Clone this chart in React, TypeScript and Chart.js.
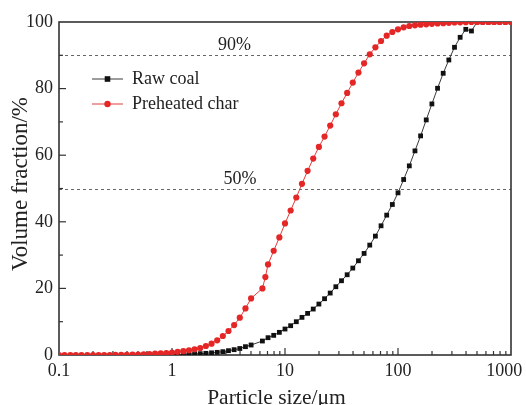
import React, { useEffect, useRef } from "react";
import { Chart, registerables } from "chart.js";

Chart.register(...registerables);

const FAMILY = "'Liberation Serif', 'Times New Roman', serif";
const TEXT_COLOR = "#222";

// Particle size classes (µm) of the preheated char curve
const charSizes = [
  0.1, 0.112, 0.126, 0.141, 0.158, 0.178, 0.2, 0.224, 0.251, 0.282,
  0.316, 0.355, 0.398, 0.447, 0.501, 0.562, 0.631, 0.708, 0.794, 0.891,
  1.0, 1.122, 1.259, 1.413, 1.585, 1.778, 1.995, 2.239, 2.512, 2.818,
  3.162, 3.548, 3.981, 4.467, 5.012, 6.31, 6.7, 7.079, 7.943, 8.913,
  10.0, 11.22, 12.59, 14.13, 15.85, 17.78, 19.95, 22.39, 25.12, 28.18,
  31.62, 35.48, 39.81, 44.67, 50.12, 56.23, 63.1, 70.79, 79.43, 89.13,
  100.0, 112.2, 125.9, 141.3, 158.5, 177.8, 199.5, 223.9, 251.2, 281.8,
  316.2, 354.8, 398.1, 446.7, 501.2, 562.3, 631.0, 707.9, 794.3, 891.3,
  1000.0,
];
// Cumulative volume fraction (%) of preheated char
const charValues = [
  0, 0, 0, 0, 0, 0, 0, 0, 0, 0,
  0.02, 0.05, 0.08, 0.1, 0.15, 0.2, 0.3, 0.4, 0.5, 0.6,
  0.75, 0.95, 1.15, 1.4, 1.7, 2.1, 2.7, 3.4, 4.4, 5.7,
  7.2, 9.0, 11.2, 14.0, 17.0, 20.0, 23.4, 27.2, 31.3, 35.3,
  39.5, 43.4, 47.3, 51.4, 55.3, 59.0, 62.5, 65.6, 68.9, 72.3,
  75.6, 78.7, 81.8, 84.8, 87.6, 90.3, 92.4, 94.3, 95.9, 97.0,
  97.8, 98.4, 98.8, 99.0, 99.2, 99.3, 99.45, 99.55, 99.65, 99.75,
  99.85, 99.9, 99.95, 100, 100, 100, 100, 100, 100, 100,
  100,
];

// Particle size classes (µm) of the raw coal curve
const coalSizes = [
  0.794, 0.891, 1.0, 1.122, 1.259, 1.413, 1.585, 1.778, 1.995, 2.239,
  2.512, 2.818, 3.162, 3.548, 3.981, 4.467, 5.012, 6.31, 7.079, 7.943,
  8.913, 10.0, 11.22, 12.59, 14.13, 15.85, 17.78, 19.95, 22.39, 25.12,
  28.18, 31.62, 35.48, 39.81, 44.67, 50.12, 56.23, 63.1, 70.79, 79.43,
  89.13, 100.0, 112.2, 125.9, 141.3, 158.5, 177.8, 199.5, 223.9, 251.2,
  281.8, 316.2, 354.8, 398.1, 446.7, 501.2, 562.3, 631.0, 707.9, 794.3,
  891.3, 1000.0,
];
// Cumulative volume fraction (%) of raw coal
const coalValues = [
  0, 0, 0.05, 0.1, 0.2, 0.3, 0.35, 0.4, 0.5, 0.65,
  0.8, 1.0, 1.3, 1.6, 1.95, 2.5, 3.0, 4.2, 5.2, 5.9,
  6.8, 7.8, 8.8, 10.0, 11.3, 12.5, 13.8, 15.3, 16.9, 18.6,
  20.5, 22.3, 24.1, 26.1, 28.3, 30.5, 33.0, 35.7, 38.8, 42.0,
  45.2, 48.7, 52.7, 56.8, 61.3, 65.8, 70.6, 75.4, 80.1, 84.6,
  88.6, 92.4, 95.4, 97.8, 97.3, 100, 100, 100, 100, 100,
  100, 100,
];

const xTickValues = [0.1, 1, 10, 100, 1000];
const xTickLabels = ["0.1", "1", "10", "100", "1000   "];
const yTickValues = [0, 20, 40, 60, 80, 100];

// Reference lines: level (%), label, label centre (µm)
const refLevels = [90, 50];
const refLabels = ["90%", "50%"];
const refLabelAt = [3.57, 4.0];

const seriesNames = ["Raw coal", "Preheated char"];

const decorPlugin = {
  id: "decor",
  beforeDatasetsDraw(chart: any) {
    const { ctx, chartArea } = chart;
    const { left, right, top, bottom } = chartArea;
    const xs = chart.scales.x;
    const ys = chart.scales.y;
    ctx.save();
    // dashed reference lines
    ctx.strokeStyle = "#666";
    ctx.lineWidth = 1;
    ctx.setLineDash([3, 3]);
    refLevels.forEach((lv, i) => {
      const y = Math.round(ys.getPixelForValue(lv)) + 0.5;
      ctx.beginPath();
      ctx.moveTo(left, y);
      ctx.lineTo(right, y);
      ctx.stroke();
      ctx.fillStyle = TEXT_COLOR;
      ctx.font = `18px ${FAMILY}`;
      ctx.textAlign = "center";
      ctx.textBaseline = "alphabetic";
      ctx.fillText(refLabels[i], xs.getPixelForValue(refLabelAt[i]), y - 5.5);
    });
    ctx.setLineDash([]);
    // inward ticks
    ctx.strokeStyle = "#333";
    ctx.lineWidth = 1.2;
    for (let v = 10; v < 100; v += 10) {
      const y = ys.getPixelForValue(v);
      const len = v % 20 === 0 ? 7 : 4;
      ctx.beginPath();
      ctx.moveTo(left, y);
      ctx.lineTo(left + len, y);
      ctx.stroke();
    }
    for (let d = 0; d < xTickValues.length - 1; d++) {
      for (let m = 1; m <= 9; m++) {
        const v = xTickValues[d] * m;
        const x = xs.getPixelForValue(v);
        const len = m === 1 ? 7 : 4;
        if (d === 0 && m === 1) continue;
        ctx.beginPath();
        ctx.moveTo(x, bottom);
        ctx.lineTo(x, bottom - len);
        ctx.stroke();
      }
    }
    // frame
    ctx.strokeStyle = "#333";
    ctx.lineWidth = 1.6;
    ctx.strokeRect(left, top, right - left, bottom - top);
    ctx.restore();
  },
  afterDraw(chart: any) {
    const { ctx, chartArea } = chart;
    const { left, right, top, bottom } = chartArea;
    ctx.save();
    ctx.fillStyle = TEXT_COLOR;
    // axis titles
    ctx.font = `21.5px ${FAMILY}`;
    ctx.textAlign = "center";
    ctx.textBaseline = "alphabetic";
    ctx.fillText("Particle size/μm", (left + right) / 2 - 8.5, bottom + 49);
    ctx.save();
    ctx.translate(left - 32, (top + bottom) / 2 - 4.5);
    ctx.rotate(-Math.PI / 2);
    ctx.font = `23px ${FAMILY}`;
    ctx.fillText("Volume fraction/%", 0, 0);
    ctx.restore();
    // legend
    const order = [0, 1];
    order.forEach((di, row) => {
      const ds = chart.data.datasets[di];
      const y = top + 57 + row * 25;
      const x0 = left + 33;
      const x1 = left + 64;
      ctx.strokeStyle = ds.borderColor;
      ctx.lineWidth = 1;
      ctx.beginPath();
      ctx.moveTo(x0, y);
      ctx.lineTo(x1, y);
      ctx.stroke();
      const cx = (x0 + x1) / 2;
      ctx.fillStyle = ds.pointBackgroundColor;
      if (ds.pointStyle === "rect") {
        ctx.fillRect(cx - 2.8, y - 2.8, 5.6, 5.6);
      } else {
        ctx.beginPath();
        ctx.arc(cx, y, 3.2, 0, Math.PI * 2);
        ctx.fill();
      }
      ctx.fillStyle = TEXT_COLOR;
      ctx.font = `18px ${FAMILY}`;
      ctx.textAlign = "left";
      ctx.textBaseline = "middle";
      ctx.fillText(ds.label, left + 73, y);
    });
    ctx.restore();
  },
};

export default function App() {
  const ref = useRef<HTMLCanvasElement>(null);
  useEffect(() => {
    const canvas = ref.current;
    if (!canvas) return;
    const chart = new Chart(canvas, {
      type: "line",
      data: {
        datasets: [
          {
            label: seriesNames[0],
            data: coalSizes.map((x, i) => ({ x, y: coalValues[i] })),
            borderColor: "#3a3a3a",
            borderWidth: 1,
            pointStyle: "rect",
            pointRadius: 3.4,
            pointBackgroundColor: "#111",
            pointBorderWidth: 0,
            pointBorderColor: "#111",
            tension: 0,
            order: 1,
          },
          {
            label: seriesNames[1],
            data: charSizes.map((x, i) => ({ x, y: charValues[i] })),
            borderColor: "#e53b3b",
            borderWidth: 1,
            pointStyle: "circle",
            pointRadius: 3.1,
            pointBackgroundColor: "#e52626",
            pointBorderWidth: 0,
            pointBorderColor: "#e52626",
            tension: 0,
            order: 0,
          },
        ],
      },
      options: {
        responsive: false,
        animation: false,
        devicePixelRatio: 1,
        layout: { padding: { top: 22, right: 15, left: 0, bottom: 0 } },
        plugins: {
          legend: { display: false },
          tooltip: { enabled: false },
        },
        scales: {
          x: {
            type: "logarithmic",
            min: 0.1,
            max: 1000,
            grid: { display: false, drawTicks: false },
            border: { display: false },
            ticks: {
              font: { family: FAMILY, size: 18 },
              color: TEXT_COLOR,
              padding: 5,
              autoSkip: false,
              maxRotation: 0,
              callback: (v: any, i: number) => xTickLabels[i] ?? String(v),
            },
            afterBuildTicks: (s: any) => {
              s.ticks = xTickValues.map((v) => ({ value: v, major: true }));
            },
            afterFit: (s: any) => {
              s.height = 50;
              s.paddingLeft = 0;
              s.paddingRight = 0;
            },
          },
          y: {
            type: "linear",
            min: 0,
            max: 100,
            grid: { display: false, drawTicks: false },
            border: { display: false },
            ticks: {
              font: { family: FAMILY, size: 18 },
              color: TEXT_COLOR,
              padding: 6,
            },
            afterBuildTicks: (s: any) => {
              s.ticks = yTickValues.map((v) => ({ value: v }));
            },
            afterFit: (s: any) => {
              s.width = 59;
              s.paddingTop = 0;
              s.paddingBottom = 0;
            },
          },
        },
      },
      plugins: [decorPlugin],
    } as any);
    return () => chart.destroy();
  }, []);
  return (
    <div
      style={{
        position: "absolute",
        left: 0,
        top: 0,
        width: 526,
        height: 405,
        background: "#fff",
      }}
    >
      <canvas
        ref={ref}
        width={526}
        height={405}
        style={{ display: "block", width: 526, height: 405 }}
      />
    </div>
  );
}
